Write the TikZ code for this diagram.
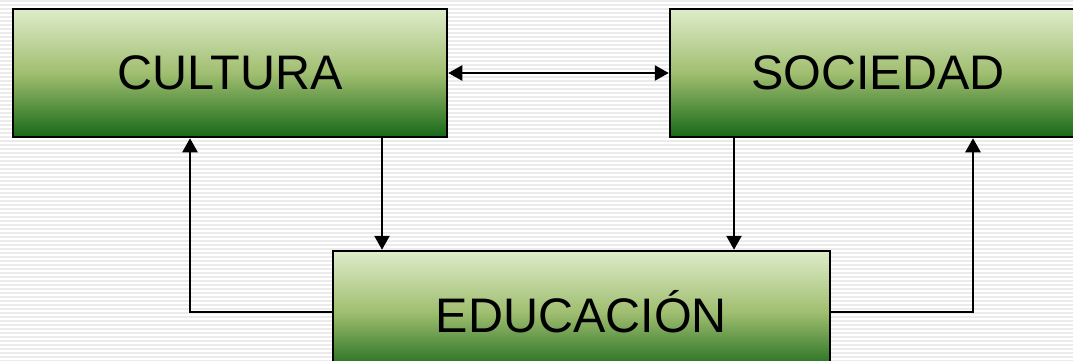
\documentclass[tikz,border=0pt]{standalone}
\usepackage{fontspec}
\setmainfont{Liberation Sans}
\usetikzlibrary{arrows.meta}
\definecolor{gtop}{RGB}{222,236,202}
\definecolor{gmid}{RGB}{160,190,112}
\definecolor{gbot}{RGB}{24,104,24}
\tikzset{
  box/.style={draw=black, line width=2.5pt, rectangle, inner sep=0pt,
    top color=gtop, bottom color=gbot, middle color=gmid,
    font=\fontsize{48.5}{54}\selectfont},
  arr/.style={draw=black, line width=2.5pt, -{Triangle[length=14pt,width=15pt]}},
  darr/.style={draw=black, line width=2.5pt, {Triangle[length=14pt,width=15pt]}-{Triangle[length=14pt,width=15pt]}}
}
\begin{document}
\begin{tikzpicture}[x=1pt,y=-1pt]
\useasboundingbox (0,0) rectangle (1073,360);
\clip (0,0) rectangle (1073,360);
\fill[white] (0,0) rectangle (1073,360);
\foreach \yy in {1,5,...,361} {
  \draw[black!8, line width=1.8pt] (0,\yy) -- (1073,\yy);
}
\node[box, minimum width=434pt, minimum height=128pt] (cul) at (230,73) {CULTURA};
\node[box, minimum width=416pt, minimum height=128pt] (soc) at (878,73) {SOCIEDAD};
\node[box, minimum width=497pt, minimum height=122pt] (edu) at (581.5,312) {EDUCACIÓN};
\draw[darr] (cul.east) -- (soc.west);
\draw[arr] ([xshift=152pt]cul.south) -- ([xshift=152pt]cul.south |- edu.north);
\draw[arr] ([xshift=-144pt]soc.south) -- ([xshift=-144pt]soc.south |- edu.north);
\draw[arr] (edu.west) -| ([xshift=-40pt]cul.south);
\draw[arr] (edu.east) -| ([xshift=95pt]soc.south);
\end{tikzpicture}
\end{document}
